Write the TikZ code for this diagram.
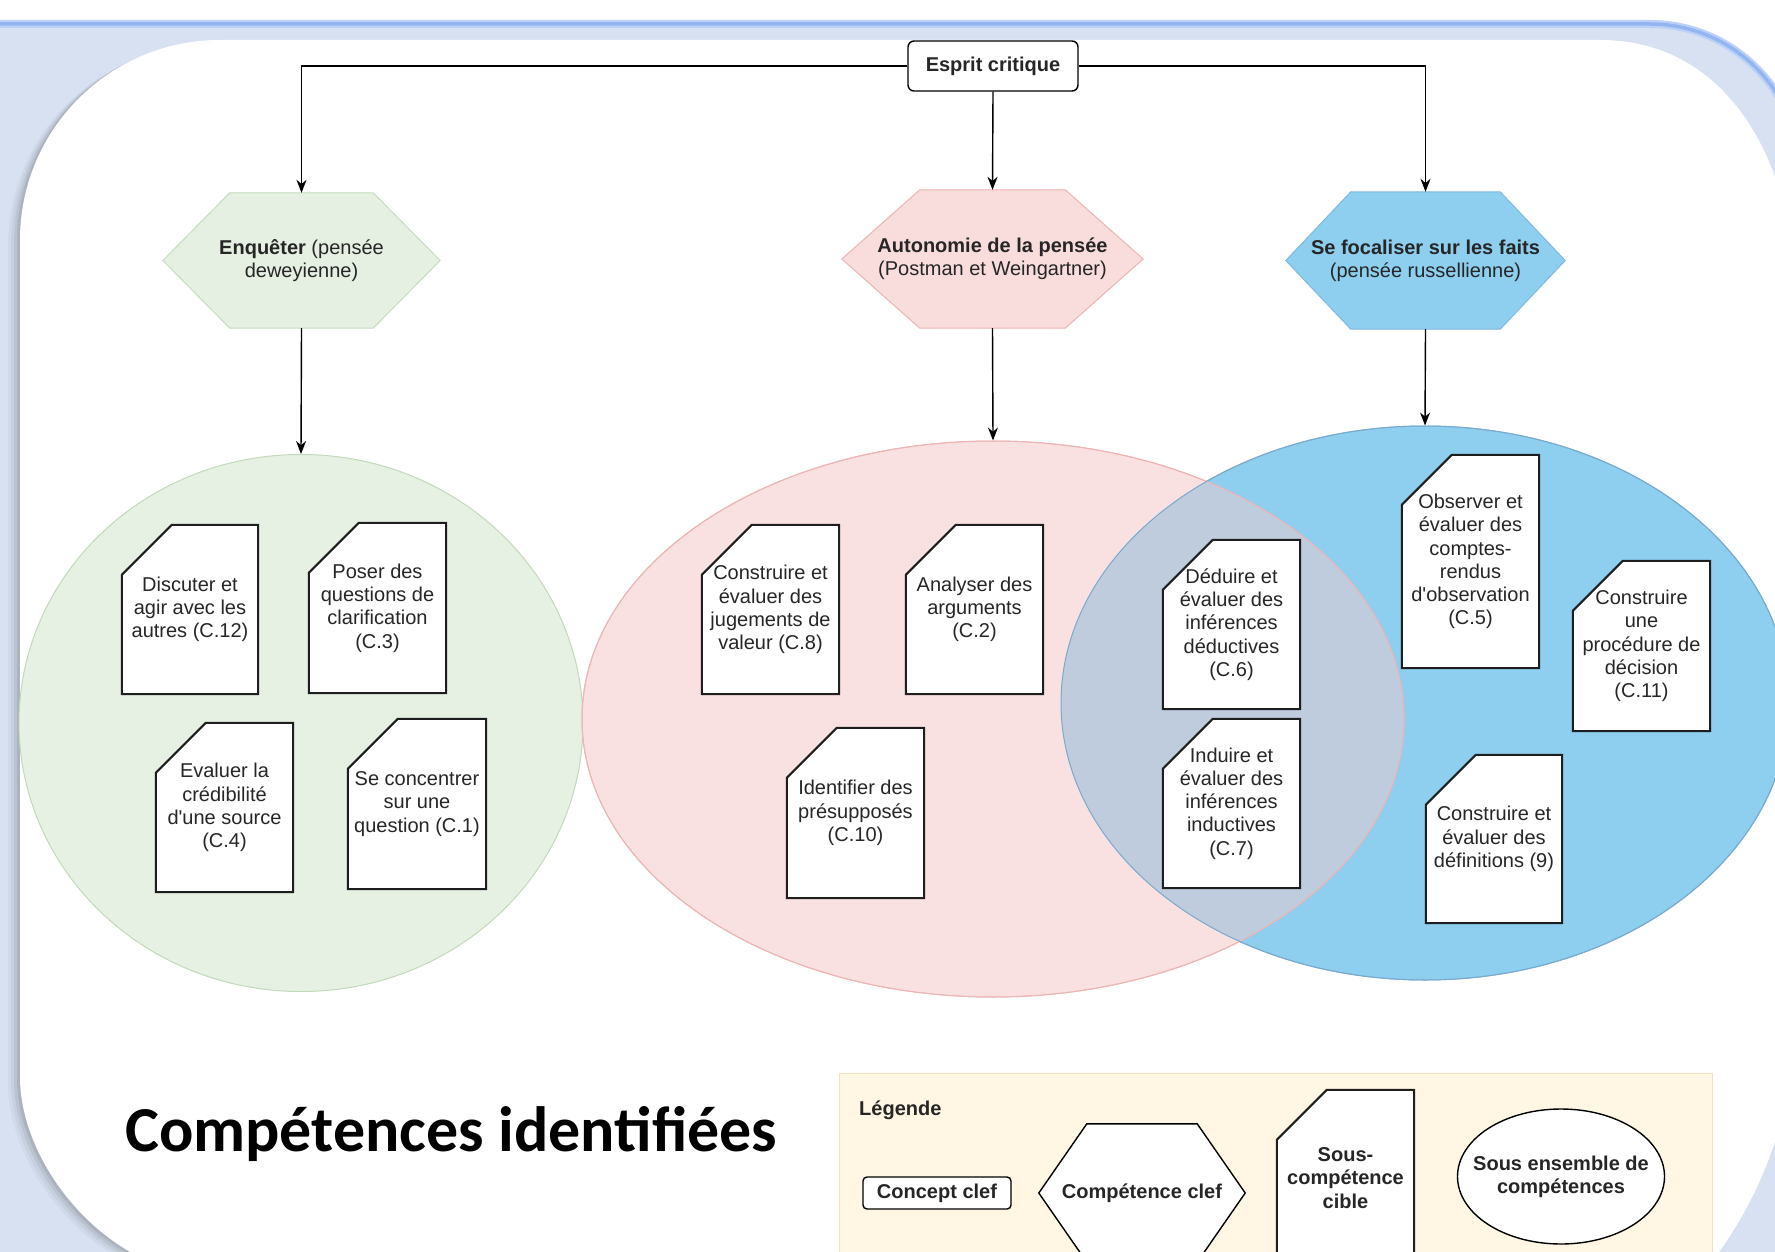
\documentclass[tikz,border=0pt]{standalone}
\usepackage{fontspec}
\setmainfont{Liberation Sans}
\newfontfamily\titlefont{Carlito}
\usetikzlibrary{arrows.meta,calc,shapes.geometric}
\pgfdeclarelayer{bg}
\pgfdeclarelayer{ell}
\pgfdeclarelayer{shp}
\pgfsetlayers{bg,ell,shp,main}
\definecolor{pageblue}{HTML}{D7E1F1}
\definecolor{topline1}{HTML}{BCD1F7}
\definecolor{topline2}{HTML}{93B6F1}
\definecolor{greenF}{HTML}{E6F0E3}
\definecolor{greenD}{HTML}{C2D9BA}
\definecolor{pinkF}{HTML}{FAE1E1}
\definecolor{pinkD}{HTML}{EDB5B5}
\definecolor{blueF}{HTML}{8ECFEF}
\definecolor{blueD}{HTML}{78B4DE}
\definecolor{overlapF}{HTML}{BECCDE}
\definecolor{hexAF}{HTML}{E5EFE2}
\definecolor{hexAD}{HTML}{C6DCC0}
\definecolor{hexBF}{HTML}{F9DDDD}
\definecolor{hexBD}{HTML}{EEB3B3}
\definecolor{hexCF}{HTML}{8ECFEF}
\definecolor{hexCD}{HTML}{7FB8E0}
\definecolor{legF}{HTML}{FFF6E3}
\definecolor{legD}{HTML}{F2E3BE}
\definecolor{txtc}{HTML}{262626}
\definecolor{docc}{HTML}{1E1E1E}
\tikzset{
  txt/.style={font=\fontsize{20}{23.3}\selectfont, text=txtc, align=center},
  docnode/.style={txt, inner sep=0pt},
  docline/.style={draw=docc, line width=2pt, fill=white, line join=miter},
  hexnode/.style={txt, inner sep=0pt},
  conn/.style={draw=black, line width=1.4pt, -{Stealth[length=13pt,width=10pt]}},
  legline/.style={draw=black, line width=1.4pt, fill=white},
}
\newcommand\docbox[6]{%
  \node[docnode, minimum width=#4pt, minimum height=#5pt] (#1) at (#2,#3) {#6};
  \begin{pgfonlayer}{shp}
  \draw[docline] ($(#1.north west)+(50,0)$) -- (#1.north east) -- (#1.south east) -- (#1.south west) -- ($(#1.north west)+(0,50)$) -- cycle;
  \end{pgfonlayer}}
\newcommand\hexbox[8]{%
  \node[hexnode, minimum width=#4pt, minimum height=#5pt] (#1) at (#2,#3) {#8};
  \begin{pgfonlayer}{shp}
  \draw[#7] ($(#1.north west)+(#6,0)$) -- ($(#1.north east)+(-#6,0)$) -- (#1.east) -- ($(#1.south east)+(-#6,0)$) -- ($(#1.south west)+(#6,0)$) -- (#1.west) -- cycle;
  \end{pgfonlayer}}
\newcommand\panelpath{(20,1077) -- (20,240) .. controls (20,129.5) and (109.5,40) .. (220,40) -- (1600,40) .. controls (1710,40) and (1778,130) .. (1795,260) -- (1797,1000) .. controls (1797,1120) and (1755,1210) .. (1700,1277) -- (220,1277) .. controls (109.5,1277) and (20,1166.5) .. (20,1077) -- cycle}
\begin{document}
\begin{tikzpicture}[x=1pt,y=-1pt]
\useasboundingbox (0,0) rectangle (1775,1252);
\begin{pgfonlayer}{bg}
  \fill[white] (0,0) rectangle (1775,1252);
  \fill[pageblue] (-10,24) -- (1650,24) .. controls (1733,24) and (1800,91) .. (1800,174) -- (1800,1280) -- (-10,1280) -- cycle;
  \draw[line width=8pt, topline1] (-10,24) -- (1650,24) .. controls (1733,24) and (1800,91) .. (1800,174);
  \draw[line width=3.5pt, topline2] (-10,24) -- (1650,24) .. controls (1733,24) and (1800,91) .. (1800,174);
  \foreach \d/\o in {12/0.03,9/0.04,6/0.06,3/0.08}{
    \fill[black, opacity=\o, shift={(-\d,0.5*\d)}] \panelpath;
  }
  \fill[white] \panelpath;
\end{pgfonlayer}

% ellipses
\begin{pgfonlayer}{ell}
  \node[ellipse, inner sep=0pt, minimum width=564pt, minimum height=537pt, fill=greenF, draw=greenD, line width=1pt] (ellA) at (301,723) {};
  \node[ellipse, inner sep=0pt, minimum width=728pt, minimum height=554pt, fill=blueF, draw=blueD, line width=1pt] (ellC) at (1425,703) {};
  \node[ellipse, inner sep=0pt, minimum width=822pt, minimum height=556pt, fill=pinkF, draw=pinkD, line width=1pt] (ellB) at (993,719) {};
  \begin{scope}
    \clip (993,719) ellipse [x radius=411, y radius=278];
    \fill[overlapF] (1425,703) ellipse [x radius=364, y radius=277];
  \end{scope}
  \draw[pinkD, line width=1pt] (993,719) ellipse [x radius=411, y radius=278];
  \draw[blueD!80!gray, line width=1pt] (1425,703) ellipse [x radius=364, y radius=277];
  \node[draw=legD, fill=legF, line width=1pt, inner sep=0pt, minimum width=873pt, minimum height=240pt, anchor=north west] (legend) at (839,1073) {};
\end{pgfonlayer}

% key concept
\node[draw=black, line width=1.4pt, rounded corners=6pt, fill=white, minimum width=170pt, minimum height=50pt, txt] (ec) at (993,66) {\textbf{Esprit critique}};

% key competences
\hexbox{hexA}{301.5}{260.5}{277}{135}{67}{fill=hexAF,draw=hexAD,line width=1pt}{\textbf{Enquêter} (pensée\\deweyienne)}
\hexbox{hexB}{992.5}{259}{301}{138}{78}{fill=hexBF,draw=hexBD,line width=1pt}{\textbf{Autonomie de la pensée}\\(Postman et Weingartner)}
\hexbox{hexC}{1425.5}{260.5}{279}{137}{65}{fill=hexCF,draw=hexCD,line width=1pt}{\textbf{Se focaliser sur les faits}\\(pensée russellienne)}

% sub-competences
\docbox{c12}{190}{609.5}{136}{169}{Discuter et\\agir avec les\\autres (C.12)}
\docbox{c3}{377.5}{608}{137}{170}{Poser des\\questions de\\clarification\\(C.3)}
\docbox{c4}{224.5}{807.5}{137}{169}{Evaluer la\\crédibilité\\d\textquotesingle une source\\(C.4)}
\docbox{c1}{417}{804}{138}{170}{Se concentrer\\sur une\\question (C.1)}
\docbox{c8}{770.5}{609.5}{137}{169}{Construire et\\évaluer des\\jugements de\\valeur (C.8)}
\docbox{c2}{974.5}{609.5}{137}{169}{Analyser des\\arguments\\(C.2)}
\docbox{c10}{855.5}{813}{137}{170}{Identifier des\\présupposés\\(C.10)}
\docbox{c6}{1231.5}{624.5}{137}{169}{Déduire et\\évaluer des\\inférences\\déductives\\(C.6)}
\docbox{c7}{1231.5}{803.5}{137}{169}{Induire et\\évaluer des\\inférences\\inductives\\(C.7)}
\docbox{c5}{1470.5}{561.5}{137}{213}{Observer et\\évaluer des\\comptes-\\rendus\\d\textquotesingle observation\\(C.5)}
\docbox{c11}{1641.5}{646}{137}{170}{Construire\\une\\procédure de\\décision\\(C.11)}
\docbox{c9}{1494}{839}{136}{168}{Construire et\\évaluer des\\définitions (9)}

% connectors
\draw[conn] (ec.west) -| (hexA.north);
\draw[conn] (ec.south) -- (hexB.north);
\draw[conn] (ec.east) -| (hexC.north);
\draw[conn] (hexA.south) -- (ellA.north);
\draw[conn] (hexB.south) -- (ellB.north);
\draw[conn] (hexC.south) -- (ellC.north);

% title
\node[font=\titlefont\bfseries\fontsize{64}{70}\selectfont, anchor=base west, inner sep=0pt] (title) at (125,1151) {Compétences identifiées};

% legend
\node[txt, anchor=west, inner sep=0pt] (legtitle) at (859,1110) {\textbf{Légende}};
\node[draw=black, line width=1.4pt, rounded corners=4pt, fill=white, minimum width=148pt, minimum height=32pt, inner sep=0pt, txt] (legc) at (937,1193) {\textbf{Concept clef}};
\hexbox{legh}{1142}{1193}{206}{138}{48}{legline}{\textbf{Compétence clef}}
\docbox{legd}{1345.5}{1178}{137}{176}{\textbf{Sous-}\\\textbf{compétence}\\\textbf{cible}}
\node[txt] (lege) at (1561,1176.5) {\textbf{Sous ensemble de}\\\textbf{compétences}};
\begin{pgfonlayer}{shp}
  \draw[legline] (lege.center) ellipse [x radius=103.5, y radius=67.5];
\end{pgfonlayer}
\end{tikzpicture}
\end{document}
